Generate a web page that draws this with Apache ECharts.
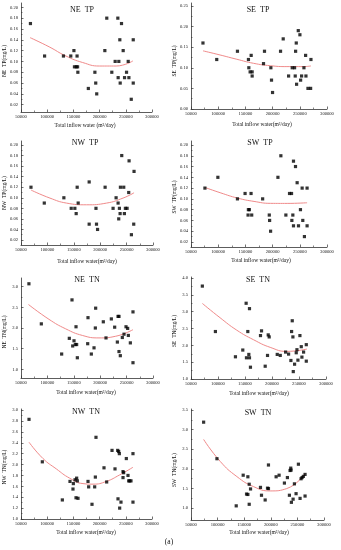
<!DOCTYPE html>
<html><head><meta charset="utf-8">
<script src="https://cdn.jsdelivr.net/npm/echarts@6/dist/echarts.min.js"></script>
<style>html,body{margin:0;padding:0;background:#fff}#c{width:341px;height:550px}</style>
</head><body><div id="c"></div>
<script>
// ---- tick label values ----
const xTicks = [50000, 100000, 150000, 200000, 250000, 300000];
const tpTicks = [0.02, 0.04, 0.06, 0.08, 0.10, 0.12, 0.14, 0.16, 0.18, 0.20];
const seTPTicks = [0.00, 0.05, 0.10, 0.15, 0.20, 0.25];
const neTNTicks = [1.0, 1.5, 2.0, 2.5, 3.0];
const seTNTicks = [1.0, 1.5, 2.0, 2.5, 3.0, 3.5, 4.0];
const nwTNTicks = [1.0, 1.2, 1.4, 1.6, 1.8, 2.0, 2.2, 2.4, 2.6, 2.8, 3.0];
const swTNTicks = [1.0, 1.5, 2.0, 2.5, 3.0, 3.5];

// ---- observations [inflow, concentration] ----
const neTP = [[68000,0.17],[95000,0.11],[131000,0.11],[145000,0.11],[151000,0.12],[152000,0.09],[155500,0.09],[157000,0.11],[158000,0.09],[158500,0.08],[178500,0.05],[191000,0.08],[192600,0.06],[194500,0.04],[210000,0.12],[213700,0.18],[223300,0.08],[229700,0.10],[234800,0.18],[235400,0.07],[236700,0.10],[238600,0.14],[239300,0.06],[241800,0.17],[245000,0.12],[247600,0.07],[251400,0.08],[254600,0.10],[255900,0.07],[260400,0.03],[264200,0.14],[264200,0.06]];
const seTP = [[72000,0.16],[97300,0.12],[135400,0.14],[155600,0.12],[156300,0.10],[158700,0.09],[160600,0.13],[162400,0.09],[162400,0.08],[183300,0.11],[185100,0.14],[196800,0.10],[198000,0.07],[199900,0.04],[214600,0.14],[219500,0.17],[229400,0.08],[236100,0.10],[240400,0.10],[241600,0.08],[242300,0.14],[243500,0.16],[244100,0.06],[247200,0.19],[250200,0.18],[251500,0.07],[253300,0.08],[257600,0.10],[260700,0.13],[261300,0.08],[265000,0.05],[269900,0.05],[270500,0.12]];
const nwTP = [[68900,0.12],[94100,0.09],[131200,0.10],[145100,0.08],[152000,0.08],[154500,0.07],[156400,0.12],[158300,0.09],[179100,0.13],[179100,0.05],[192000,0.08],[193000,0.05],[195000,0.04],[209300,0.12],[224400,0.08],[230100,0.10],[233900,0.09],[235100,0.06],[236400,0.08],[237700,0.07],[238300,0.12],[240800,0.18],[244600,0.12],[245800,0.07],[247700,0.08],[250900,0.08],[254000,0.11],[254700,0.17],[259100,0.03],[263500,0.05],[264100,0.15]];
const swTP = [[75600,0.12],[99400,0.14],[135400,0.10],[149400,0.11],[155500,0.08],[157300,0.08],[154900,0.07],[160400,0.11],[161600,0.07],[181700,0.10],[193900,0.07],[194500,0.06],[196300,0.04],[209800,0.14],[215200,0.18],[224400,0.07],[231100,0.11],[234800,0.11],[235400,0.06],[237200,0.07],[238400,0.17],[238400,0.05],[242100,0.16],[245100,0.13],[247600,0.05],[251200,0.08],[254300,0.12],[255500,0.06],[258500,0.03],[263400,0.12],[263400,0.05]];
const neTN = [[65000,3.07],[88500,2.10],[127000,1.37],[141500,1.75],[146600,2.68],[147900,1.565],[150400,1.69],[152900,1.60],[154200,2.03],[155400,1.60],[156700,1.28],[176300,1.62],[176900,2.25],[183200,1.37],[188300,1.52],[190800,2.00],[191400,2.48],[205900,2.15],[211000,1.76],[221100,2.22],[227400,2.02],[232500,1.66],[233800,2.28],[235600,2.28],[235600,1.43],[238100,1.33],[241900,1.77],[245100,1.85],[248900,2.03],[252000,1.99],[253300,1.82],[257100,1.64],[262100,2.39],[262100,1.16]];
const seTN = [[71000,3.76],[95200,2.41],[132300,1.66],[145900,1.86],[152100,3.25],[152700,1.63],[155200,2.41],[157100,1.73],[158300,3.09],[158300,1.63],[160100,1.35],[178700,2.29],[180600,2.43],[187400,1.38],[191700,1.70],[193000,2.31],[194800,2.25],[209700,1.73],[215300,1.70],[225200,1.80],[230700,1.74],[235000,1.55],[236300,2.41],[237500,2.73],[238700,2.25],[239400,1.22],[241800,1.44],[244900,1.78],[246200,1.87],[248000,1.56],[251700,2.29],[254200,1.96],[255400,1.65],[258500,1.80],[263500,2.02],[263500,1.53]];
const nwTN = [[65300,2.83],[90700,2.05],[128900,1.35],[143500,1.69],[149200,1.55],[149900,1.65],[153100,1.72],[155000,1.39],[156200,1.75],[157500,1.70],[158800,1.38],[177900,1.69],[179100,1.59],[185500,1.27],[190600,1.59],[191900,1.77],[193100,2.50],[208400,1.94],[213500,1.68],[223700,2.26],[229400,1.92],[234500,2.26],[235100,1.37],[236400,2.24],[237700,2.20],[238300,1.20],[240800,1.31],[244700,1.87],[245900,1.85],[244700,1.76],[251000,2.11],[254200,1.80],[255500,1.70],[257400,1.70],[259900,1.70],[263700,2.20],[263700,1.31]];
const swTN = [[73750,3.19],[98750,2.26],[135000,1.06],[148100,1.84],[154400,1.36],[156900,1.80],[156900,1.35],[159400,1.61],[159400,1.10],[161900,1.49],[180600,1.53],[182500,1.33],[189400,1.21],[193800,1.51],[195600,2.10],[195600,1.50],[210000,1.80],[215600,1.84],[225600,1.64],[231200,1.78],[235000,1.33],[236200,1.96],[237500,2.02],[238100,1.97],[238700,1.15],[241900,1.23],[244400,1.62],[247500,1.37],[251900,2.12],[255000,1.25],[256900,1.75],[258800,1.78],[261200,1.81],[264400,1.86],[264400,1.31]];

// ---- fitted curves ----
const neTPFit = [[67300,0.144],[103700,0.127],[135700,0.110],[167600,0.098],[199600,0.0915],[231600,0.0915],[263600,0.101]];
const seTPFit = [[72100,0.141],[103400,0.131],[134200,0.1206],[164900,0.1108],[195600,0.105],[226300,0.1028],[257000,0.1028],[270500,0.1044]];
const nwTPFit = [[68900,0.1147],[104800,0.0994],[136300,0.0899],[174100,0.0867],[211800,0.0899],[243300,0.0994],[264100,0.1095]];
const swTPFit = [[76200,0.121],[104900,0.111],[135400,0.1015],[165900,0.0953],[196300,0.0917],[226800,0.0916],[263400,0.0928]];
const neTNFit = [[64000,2.57],[103000,2.21],[134600,1.98],[166200,1.82],[197700,1.76],[229300,1.80],[262100,1.96]];
const seTNFit = [[71000,3.245],[103800,2.82],[134800,2.45],[165700,2.167],[196700,1.94],[227600,1.82],[264700,1.89]];
const nwTNFit = [[65300,2.41],[92000,2.11],[117400,1.92],[142900,1.75],[168300,1.65],[187400,1.64],[212800,1.69],[238300,1.81],[263700,1.95]];
const swTNFit = [[73750,2.75],[105000,2.19],[136250,1.805],[167500,1.55],[198750,1.44],[230000,1.50],[264400,1.88]];

const FONT = '"Liberation Serif", "DejaVu Serif", serif';
const XNAME1 = 'Total inflow water (m\u00B3/day)';
const XNAME = 'Total inflow water(m\u00B3/day)';

const panels = [
  {title:'NE  TP', yName:'NE  TP(mg/L)', xName:XNAME1, pts:neTP, fit:neTPFit, ticks:tpTicks, dec:2, min:0.0065, max:0.208, g:[21,3,131,109], t:[82,9.5], yn:[5,61], xn:[85,126]},
  {title:'SE  TP', yName:'SE  TP(mg/L)', xName:XNAME, pts:seTP, fit:seTPFit, ticks:seTPTicks, dec:2, min:0, max:0.257, g:[191,3,136,106], t:[258,9.5], yn:[175,61], xn:[262,124.5]},
  {title:'NW  TP', yName:'NW  TP(mg/L)', xName:XNAME, pts:nwTP, fit:nwTPFit, ticks:tpTicks, dec:2, min:0.0105, max:0.2076, g:[21,141,132,104], t:[85,142.5], yn:[5,193], xn:[87,262]},
  {title:'SW  TP', yName:'SW  TP(mg/L)', xName:XNAME, pts:swTP, fit:swTPFit, ticks:tpTicks, dec:2, min:0.0107, max:0.2074, g:[191,141,136,106], t:[260,142.5], yn:[175,197], xn:[261,261]},
  {title:'NE  TN', yName:'NE  TN(mg/L)', xName:XNAME, pts:neTN, fit:neTNFit, ticks:neTNTicks, dec:1, min:0.79, max:3.21, g:[21,278,132,100], t:[87,279.5], yn:[5,332], xn:[86,393]},
  {title:'SE  TN', yName:'SE  TN(mg/L)', xName:XNAME, pts:seTN, fit:seTNFit, ticks:seTNTicks, dec:1, min:1.0, max:4.03, g:[191,277,135,102], t:[258,279.5], yn:[175,331], xn:[259,394]},
  {title:'NW  TN', yName:'NW  TN(mg/L)', xName:XNAME, pts:nwTN, fit:nwTNFit, ticks:nwTNTicks, dec:1, min:1.0, max:3.02, g:[21,409,131,110], t:[86,411.5], yn:[5,467], xn:[86,533]},
  {title:'SW  TN', yName:'SW  TN(mg/L)', xName:XNAME, pts:swTN, fit:swTNFit, ticks:swTNTicks, dec:1, min:0.70, max:3.525, g:[191,409,133,111], t:[258,412.5], yn:[175,470], xn:[259,533]}
];

function mids(arr){ const m=[]; for(let i=0;i<arr.length-1;i++) m.push((arr[i]+arr[i+1])/2); return m; }

const axisCol = '#333';
const grid=[], xAxis=[], yAxis=[], series=[], graphic=[];
panels.forEach((p,i)=>{
  grid.push({left:p.g[0], top:p.g[1], width:p.g[2], height:p.g[3]});
  const xi = xAxis.length, yi = yAxis.length;
  xAxis.push({gridIndex:i, type:'value', position:'bottom', min:50000, max:300000,
    axisLine:{show:true, onZero:false, lineStyle:{color:axisCol, width:0.8}},
    axisTick:{show:true, inside:true, length:2.5, customValues:xTicks, lineStyle:{color:axisCol, width:0.7}},
    axisLabel:{customValues:xTicks, fontSize:4.6, margin:2.5, color:'#222', fontFamily:FONT, formatter:v=>String(Math.round(v))},
    splitLine:{show:false}});
  xAxis.push({gridIndex:i, type:'value', position:'bottom', min:50000, max:300000,
    axisLine:{show:false}, axisTick:{show:true, inside:true, length:1.5, customValues:mids(xTicks), lineStyle:{color:axisCol, width:0.6}},
    axisLabel:{show:false}, splitLine:{show:false}});
  yAxis.push({gridIndex:i, type:'value', position:'left', min:p.min, max:p.max,
    axisLine:{show:true, onZero:false, lineStyle:{color:axisCol, width:0.8}},
    axisTick:{show:true, inside:true, length:2.5, customValues:p.ticks, lineStyle:{color:axisCol, width:0.7}},
    axisLabel:{customValues:p.ticks, fontSize:4.6, margin:3, color:'#222', fontFamily:FONT, formatter:v=>v.toFixed(p.dec)},
    splitLine:{show:false}});
  yAxis.push({gridIndex:i, type:'value', position:'left', min:p.min, max:p.max,
    axisLine:{show:false}, axisTick:{show:true, inside:true, length:1.5, customValues:mids(p.ticks), lineStyle:{color:axisCol, width:0.6}},
    axisLabel:{show:false}, splitLine:{show:false}});
  series.push({type:'line', xAxisIndex:xi, yAxisIndex:yi, data:p.fit, smooth:0.5, showSymbol:false, silent:true,
    lineStyle:{color:'#f08a8a', width:1}, z:2});
  series.push({type:'scatter', xAxisIndex:xi, yAxisIndex:yi, data:p.pts, symbol:'rect', symbolSize:3.2, silent:true,
    itemStyle:{color:'#000'}, z:3});
  graphic.push({type:'text', x:p.t[0], y:p.t[1], style:{text:p.title, fontSize:8, fontFamily:FONT, fill:'#111', align:'center', verticalAlign:'middle'}});
  graphic.push({type:'text', x:p.yn[0], y:p.yn[1], rotation:Math.PI/2, style:{text:p.yName, fontSize:5.5, fontFamily:FONT, fill:'#111', align:'center', verticalAlign:'middle'}});
  graphic.push({type:'text', x:p.xn[0], y:p.xn[1], style:{text:p.xName, fontSize:5.5, fontFamily:FONT, fill:'#111', align:'center', verticalAlign:'middle'}});
});
graphic.push({type:'text', x:169, y:542, style:{text:'(a)', fontSize:7.5, fontFamily:FONT, fill:'#111', align:'center', verticalAlign:'middle'}});

const chart = echarts.init(document.getElementById('c'), null, {renderer:'canvas'});
chart.setOption({backgroundColor:'#fff', animation:false, grid, xAxis, yAxis, series, graphic});
</script>
</body></html>
